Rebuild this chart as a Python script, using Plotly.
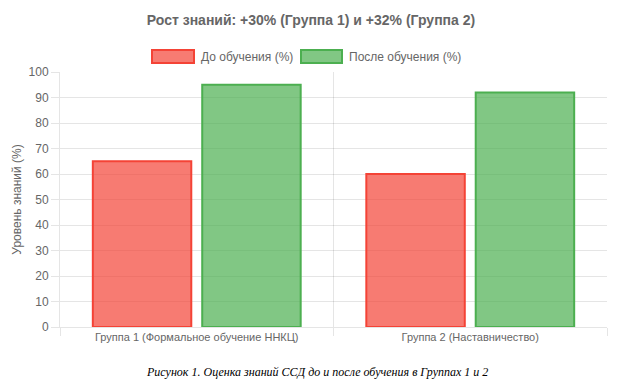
import plotly.graph_objects as go

categories = ["Группа 1 (Формальное обучение ННКЦ)", "Группа 2 (Наставничество)"]
before = [65, 60]
after = [95, 92]
series_names = ["До обучения (%)", "После обучения (%)"]
title_text = "Рост знаний: +30% (Группа 1) и +32% (Группа 2)"
y_title = "Уровень знаний (%)"
caption = "Рисунок 1. Оценка знаний ССД до и после обучения в Группах 1 и 2"

W, H = 622, 384
L, R, T, B = 60, 15, 72, 57
pw, ph = W - L - R, H - T - B

def px(x):
    return (x - L) / pw

def py(y):
    return (H - B - y) / ph

red_fill = "rgba(244,67,54,0.7)"
red_line = "rgba(244,67,54,1)"
green_fill = "rgba(76,175,80,0.7)"
green_line = "rgba(76,175,80,1)"
grid = "rgba(0,0,0,0.1)"
txt = "#666666"
font_family = "Liberation Sans, Arial, Helvetica, sans-serif"

fig = go.Figure()
fig.add_trace(go.Bar(x=categories, y=before, name=series_names[0],
                     marker=dict(color=red_fill, line=dict(color=red_line, width=2))))
fig.add_trace(go.Bar(x=categories, y=after, name=series_names[1],
                     marker=dict(color=green_fill, line=dict(color=green_line, width=2))))

fig.update_layout(
    width=W, height=H,
    margin=dict(l=L, r=R, t=T, b=B),
    paper_bgcolor="white", plot_bgcolor="white",
    barmode="group", bargap=0.2, bargroupgap=0.1,
    showlegend=False,
    font=dict(family=font_family, size=12, color=txt),
    title=dict(text="<b>" + title_text + "</b>", x=0.5, xanchor="center",
               xref="container", yref="container", y=1 - 20 / H, yanchor="middle",
               font=dict(size=14, color=txt, family=font_family)),
)
fig.update_xaxes(type="category", tickson="boundaries", showgrid=True, gridcolor=grid,
                 ticks="outside", ticklen=8, tickcolor=grid, showline=True, linecolor=grid,
                 tickfont=dict(size=11, color=txt))
fig.update_yaxes(range=[0, 100], dtick=10, showgrid=True, gridcolor=grid, zeroline=False,
                 ticks="outside", ticklen=8, tickcolor=grid, showline=True, linecolor=grid,
                 title=dict(text=y_title, standoff=4, font=dict(size=12, color=txt)),
                 tickfont=dict(size=12, color=txt))

# legend drawn manually (Chart.js style boxes)
legend_items = [
    (152, 194, 199, red_fill, red_line, series_names[0]),
    (301, 342, 347, green_fill, green_line, series_names[1]),
]
for x0, x1, tx, fc, lc, name in legend_items:
    fig.add_shape(type="rect", xref="paper", yref="paper",
                  x0=px(x0), x1=px(x1), y0=py(63), y1=py(50),
                  fillcolor=fc, line=dict(color=lc, width=2))
    fig.add_annotation(xref="paper", yref="paper", x=px(tx), y=py(56.5),
                       xanchor="left", yanchor="middle", showarrow=False,
                       text=name, font=dict(size=12, color=txt, family=font_family))

fig.add_annotation(xref="paper", yref="paper", x=px(317), y=py(372),
                   xanchor="center", yanchor="middle", showarrow=False,
                   text="<i>" + caption + "</i>",
                   font=dict(size=12, color="#000000", family="Liberation Serif, Times New Roman, serif"))

fig.write_html("out.html", config={"displayModeBar": False},
               post_script="document.body.style.margin='0';document.body.style.overflow='hidden';")
